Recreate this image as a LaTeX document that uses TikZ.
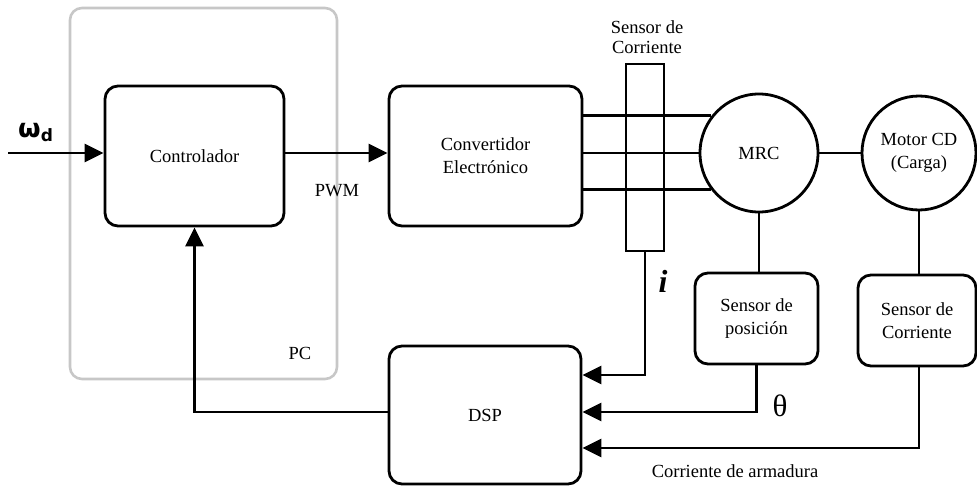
\documentclass[tikz,border=0pt]{standalone}
\usepackage{fontspec}
\setmainfont{Liberation Serif}
\newfontfamily\symfont{DejaVu Sans}
\usetikzlibrary{arrows.meta,calc}
\tikzset{
  blk/.style={draw=black, line width=2.8pt, rounded corners=13pt, align=center,
    font=\fontsize{18.5}{23}\selectfont, inner sep=0pt},
  motorc/.style={draw=black, line width=2.8pt, circle, align=center,
    font=\fontsize{18.5}{23}\selectfont, inner sep=0pt},
  wire/.style={line width=2.8pt},
  arr/.style={line width=2.8pt, -{Triangle[length=19pt,width=18pt]}},
  lbl/.style={font=\fontsize{18.5}{21}\selectfont, align=center, inner sep=0pt},
}
\begin{document}
\begin{tikzpicture}[x=1pt,y=-1pt]
\useasboundingbox (0,0) rectangle (977,487);
% PC group
\node[draw=black!22, line width=2.6pt, rounded corners=12pt, minimum width=267pt,
  minimum height=371pt, inner sep=0pt] (pc) at (203.5,193.5) {};
\node[lbl] (pclbl) at (300,353) {PC};
% blocks
\node[blk, minimum width=179pt, minimum height=140pt] (ctrl) at (194.5,156) {Controlador};
\node[blk, minimum width=193pt, minimum height=140pt] (conv) at (485.5,156) {Convertidor\\Electrónico};
\node[blk, minimum width=192pt, minimum height=138pt] (dsp) at (485,415) {DSP};
\node[blk, minimum width=123pt, minimum height=91pt] (spos) at (756.5,318.5) {Sensor de\\posición};
\node[blk, minimum width=118pt, minimum height=91pt] (scor) at (917,320.5) {Sensor de\\Corriente};
\node[motorc, minimum size=118pt] (mrc) at (759,153) {MRC};
\node[motorc, minimum size=114pt] (motor) at (919,153) {Motor CD\\(Carga)};
% input
\coordinate (in) at (8,153);
\node[inner sep=0pt, anchor=base west] (wd) at (18,137)
  {\symfont\bfseries\fontsize{26}{26}\selectfont ω\raisebox{-4pt}{\fontsize{17}{17}\selectfont d}};
\draw[arr] (in) -- (ctrl.west |- in);
\draw[arr] (ctrl.east |- in) -- (conv.west |- in);
\node[lbl] (pwm) at (337,191) {PWM};
% three phase wires
\draw[wire] (conv.east |- mrc.142.4) -- (mrc.142.4);
\draw[wire] (conv.east |- mrc.west) -- (mrc.west);
\draw[wire] (conv.east |- mrc.217.6) -- (mrc.217.6);
% current sensor
\node[draw=black, line width=2.8pt, minimum width=38pt, minimum height=187pt, inner sep=0pt] (sens) at (645,157.5) {};
\node[lbl, font=\fontsize{18.5}{20}\selectfont] (senslbl) at (647,37) {Sensor de\\Corriente};
% shaft
\draw[wire] (mrc.east) -- (motor.west);
\draw[wire] (mrc.south) -- (mrc.south |- spos.north);
\draw[wire] (motor.south) -- (motor.south |- scor.north);
% feedback to DSP
\draw[arr] (sens.south) |- ($(dsp.east)+(0,-40)$);
\draw[arr] (spos.south) |- ($(dsp.east)+(0,-3)$);
\draw[arr] (scor.south -| motor.south) |- ($(dsp.east)+(0,33)$);
\draw[arr] ($(dsp.west)+(0,-3)$) -| (ctrl.south);
% labels
\node[inner sep=0pt] (ilbl) at (663,281) {\fontsize{32}{32}\selectfont\bfseries\itshape i};
\node[inner sep=0pt] (thlbl) at (780,406) {\fontsize{31}{31}\selectfont θ};
\node[lbl] (arm) at (735,471) {Corriente de armadura};
\end{tikzpicture}
\end{document}
